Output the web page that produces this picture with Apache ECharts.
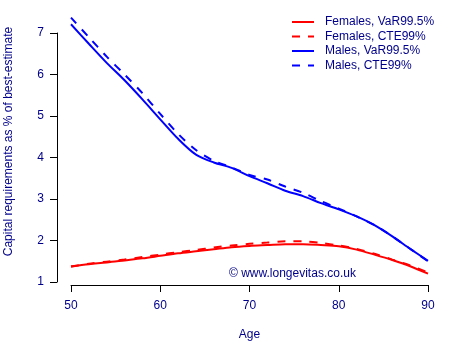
<!DOCTYPE html>
<html>
<head>
<meta charset="utf-8">
<script src="https://cdn.jsdelivr.net/npm/echarts@6/dist/echarts.min.js"></script>
<style>html,body{margin:0;padding:0;background:#fff}#c{width:450px;height:350px}</style>
</head>
<body>
<div id="c"></div>
<script>
var ages = [50,52,54,56,58,60,62,64,66,68,70,72,74,76,78,80,82,84,86,88,90];
var femalesVaR = [1.38,1.43,1.47,1.52,1.57,1.63,1.69,1.74,1.79,1.84,1.87,1.89,1.91,1.91,1.89,1.86,1.78,1.66,1.53,1.38,1.20];
var femalesCTE = [1.37,1.44,1.49,1.54,1.60,1.66,1.72,1.77,1.83,1.88,1.92,1.95,1.98,1.98,1.94,1.88,1.80,1.68,1.54,1.40,1.23];
var malesVaR = [7.21,6.74,6.28,5.86,5.40,4.92,4.45,4.07,3.88,3.75,3.55,3.38,3.20,3.07,2.90,2.75,2.58,2.37,2.10,1.80,1.51];
var malesCTE = [7.37,6.90,6.43,6.00,5.55,5.05,4.57,4.18,3.92,3.76,3.58,3.47,3.30,3.15,2.95,2.77,2.58,2.37,2.10,1.80,1.50];
var xTicks = [50,60,70,80,90];
var yTicks = [1,2,3,4,5,6,7];
var seriesNames = ['Females, VaR99.5%','Females, CTE99%','Males, VaR99.5%','Males, CTE99%'];

function pairs(v){ return ages.map(function(a,i){ return [a, v[i]]; }); }
var txt = '#00008B';
var font = '"Liberation Sans", Arial, sans-serif';
function mk(name, data, color, dashed){
  return {
    name: name, type: 'line', data: pairs(data), showSymbol: false, symbol: 'none',
    smooth: 0.3, clip: false, animation: false,
    lineStyle: {color: color, width: 2, type: dashed ? [8,8] : 'solid'},
    itemStyle: {color: color}
  };
}
var chart = echarts.init(document.getElementById('c'), null, {renderer: 'canvas'});
chart.setOption({
  animation: false,
  backgroundColor: '#ffffff',
  textStyle: {fontFamily: font},
  grid: {left: 71, top: 33, width: 357, height: 249, containLabel: false},
  xAxis: {
    type: 'value', min: xTicks[0], max: xTicks[xTicks.length-1], interval: 10,
    offset: 3,
    axisLine: {show: true, lineStyle: {color: '#000', width: 1}},
    axisTick: {show: true, inside: false, length: 7, lineStyle: {color: '#000'}},
    axisLabel: {color: txt, fontSize: 12, margin: 15, fontFamily: font},
    splitLine: {show: false},
    name: 'Age', nameLocation: 'middle', nameGap: 44,
    nameTextStyle: {color: txt, fontSize: 12, fontFamily: font}
  },
  yAxis: {
    type: 'value', min: yTicks[0], max: yTicks[yTicks.length-1], interval: 1,
    offset: 14,
    axisLine: {show: true, lineStyle: {color: '#000', width: 1}},
    axisTick: {show: true, inside: false, length: 7, lineStyle: {color: '#000'}},
    axisLabel: {color: txt, fontSize: 12, margin: 13, fontFamily: font},
    splitLine: {show: false}
  },
  legend: {
    orient: 'vertical', left: 291, top: 16, padding: 0,
    itemWidth: 22, itemHeight: 12, itemGap: 2.5,
    itemStyle: {opacity: 0, borderWidth: 0},
    textStyle: {color: txt, fontSize: 12, fontFamily: font, padding: [0,0,0,6]},
    data: seriesNames
  },
  graphic: [
    {type: 'text', x: 8.5, y: 141.5, rotation: Math.PI/2,
     style: {text: 'Capital requirements as % of best-estimate', fill: txt, font: '12px ' + font, textAlign: 'center', textVerticalAlign: 'middle'}},
    {type: 'text', x: 229, y: 273.5,
     style: {text: '\u00a9 www.longevitas.co.uk', fill: txt, font: '12px ' + font, textAlign: 'left', textVerticalAlign: 'middle'}}
  ],
  series: [
    mk(seriesNames[0], femalesVaR, '#FF0000', false),
    mk(seriesNames[1], femalesCTE, '#FF0000', true),
    mk(seriesNames[2], malesVaR, '#0000FF', false),
    mk(seriesNames[3], malesCTE, '#0000FF', true)
  ]
});
</script>
</body>
</html>
